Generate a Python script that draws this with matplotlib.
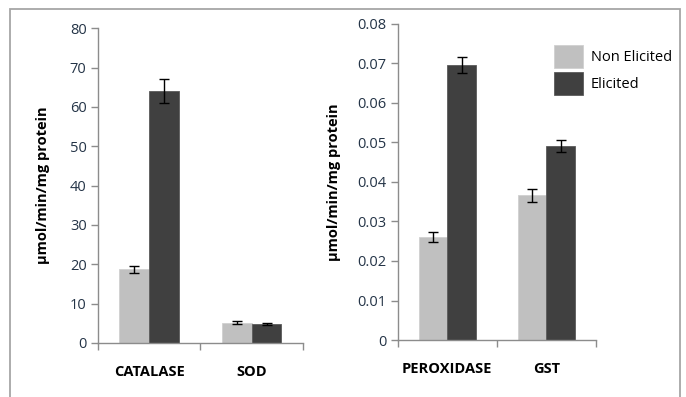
import numpy as np
import matplotlib.pyplot as plt
from matplotlib.patches import Rectangle

plt.rcParams['font.family'] = ['Open Sans', 'DejaVu Sans']

# data
groups_left = ['CATALASE', 'SOD']
nonelicited_left = [18.7, 5.2]
elicited_left = [64.1, 4.8]
nonelicited_left_err = [0.9, 0.3]
elicited_left_err = [3.1, 0.3]

groups_right = ['PEROXIDASE', 'GST']
nonelicited_right = [0.0261, 0.0366]
elicited_right = [0.0696, 0.0491]
nonelicited_right_err = [0.0013, 0.0016]
elicited_right_err = [0.0020, 0.0015]

series_names = ['Non Elicited', 'Elicited']
light = '#C0C0C0'
dark = '#404040'
axis_col = '#8C8C8C'
tick_col = '#243447'

W, H = 686, 397
fig = plt.figure(figsize=(W / 100, H / 100), dpi=100)

# outer frame around both panels
fig.patches.append(Rectangle((10 / W, -0.05), 670 / W, (H - 9) / H + 0.05,
                             transform=fig.transFigure, fill=False,
                             edgecolor='#A6A6A6', linewidth=1.3))


def panel(rect, groups, ne, e, ne_err, e_err, ymax, ystep, fmt, lpad):
    ax = fig.add_axes(rect)
    x = np.arange(len(groups)) + 0.5
    bw = 0.29
    ax.bar(x - bw / 2, ne, bw, color=light, edgecolor='#D0D0D0', linewidth=0.6,
           label=series_names[0])
    ax.bar(x + bw / 2, e, bw, color=dark, edgecolor='#5A5A5A', linewidth=0.6,
           label=series_names[1])
    ax.errorbar(x - bw / 2, ne, yerr=ne_err, fmt='none', ecolor='black',
                elinewidth=1.0, capsize=3.5, capthick=1.0)
    ax.errorbar(x + bw / 2, e, yerr=e_err, fmt='none', ecolor='black',
                elinewidth=1.0, capsize=3.5, capthick=1.0)
    ax.set_xlim(0, len(groups))
    ax.set_ylim(0, ymax)
    ticks = np.arange(0, ymax + ystep / 2, ystep)
    ax.set_yticks(ticks)
    ax.set_yticklabels([fmt(t) for t in ticks])
    ax.set_xticks(np.arange(len(groups) + 1))
    ax.set_xticklabels([])
    ax.set_xticks(x, minor=True)
    ax.set_xticklabels(groups, minor=True, fontweight='bold', fontsize=10.5,
                       color='black')
    ax.tick_params(axis='x', which='major', direction='out', length=5,
                   color=axis_col, width=1)
    ax.tick_params(axis='x', which='minor', length=0, pad=16)
    ax.tick_params(axis='y', direction='out', length=5, color=axis_col,
                   width=1, labelsize=10.5, labelcolor=tick_col, pad=3)
    for s in ['top', 'right']:
        ax.spines[s].set_visible(False)
    for s in ['left', 'bottom']:
        ax.spines[s].set_color(axis_col)
        ax.spines[s].set_linewidth(1)
    ax.set_ylabel('\u00b5mol/min/mg protein', fontweight='bold', fontsize=10.5,
                  labelpad=lpad)
    return ax


ax1 = panel([97.7 / W, (H - 343) / H, 205.3 / W, 314.7 / H], groups_left,
            nonelicited_left, elicited_left, nonelicited_left_err,
            elicited_left_err, 80, 10, lambda t: f'{t:.0f}', 14)

ax2 = panel([397.7 / W, (H - 340) / H, 198.3 / W, 316 / H], groups_right,
            nonelicited_right, elicited_right, nonelicited_right_err,
            elicited_right_err, 0.08, 0.01,
            lambda t: '0' if t == 0 else f'{t:.2f}', 12)

ax2.legend(loc='upper left', bbox_to_anchor=(541 / W, 1 - 32 / H),
           bbox_transform=fig.transFigure, frameon=False, fontsize=10.5,
           handlelength=2.0, handleheight=2.0, handletextpad=0.5,
           labelspacing=0.3)

fig.savefig('out.png', dpi=100)
